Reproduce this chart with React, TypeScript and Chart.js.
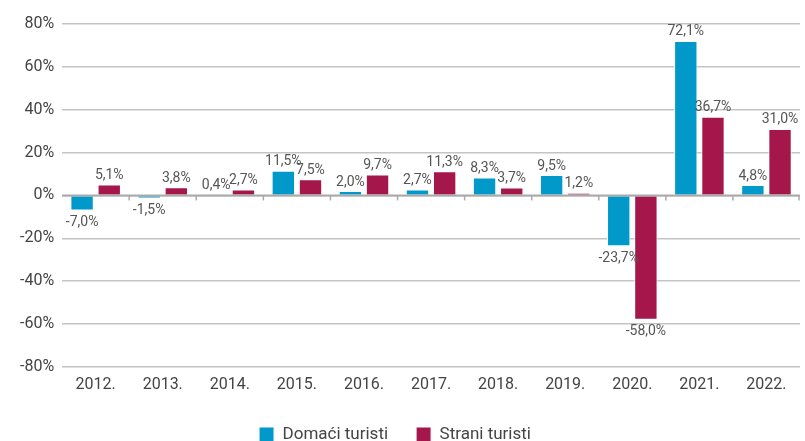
import React, { useEffect, useRef } from "react";
import { Chart, registerables } from "chart.js";

Chart.register(...registerables);

const categories = ["2012.", "2013.", "2014.", "2015.", "2016.", "2017.", "2018.", "2019.", "2020.", "2021.", "2022."];
const domaci = [-7.0, -1.5, 0.4, 11.5, 2.0, 2.7, 8.3, 9.5, -23.7, 72.1, 4.8];
const strani = [5.1, 3.8, 2.7, 7.5, 9.7, 11.3, 3.7, 1.2, -58.0, 36.7, 31.0];
const seriesNames = ["Domaći turisti", "Strani turisti"];
const colors = ["#0099c9", "#a5174b"];

const FONT = "Roboto, 'DejaVu Sans', sans-serif";

const fmt = (v: number) => v.toFixed(1).replace(".", ",") + "%";

const labelPlugin = {
  id: "valueLabels",
  afterDatasetsDraw(chart: any) {
    const ctx = chart.ctx;
    ctx.save();
    ctx.font = `14px ${FONT}`;
    ctx.fillStyle = "#555";
    ctx.textAlign = "center";
    chart.data.datasets.forEach((ds: any, di: number) => {
      const meta = chart.getDatasetMeta(di);
      meta.data.forEach((bar: any, i: number) => {
        const v = ds.data[i];
        if (v >= 0) {
          ctx.textBaseline = "bottom";
          ctx.fillText(fmt(v), bar.x, bar.y - 2);
        } else {
          ctx.textBaseline = "top";
          ctx.fillText(fmt(v), bar.x, bar.y + 5);
        }
      });
    });
    ctx.restore();
  },
};

const zeroLinePlugin = {
  id: "zeroLine",
  afterDatasetsDraw(chart: any) {
    const ctx = chart.ctx;
    const y = chart.scales.y.getPixelForValue(0);
    const xs = chart.scales.x;
    const { left, right } = chart.chartArea;
    ctx.save();
    ctx.strokeStyle = "#aaa";
    ctx.lineWidth = 2;
    ctx.beginPath();
    ctx.moveTo(left, y);
    ctx.lineTo(right, y);
    ctx.stroke();
    ctx.lineWidth = 1.5;
    const n = categories.length;
    for (let i = 1; i <= n; i++) {
      const x = i < n ? (xs.getPixelForValue(i - 1) + xs.getPixelForValue(i)) / 2 : right - 1;
      ctx.beginPath();
      ctx.moveTo(x, y);
      ctx.lineTo(x, y + 5);
      ctx.stroke();
    }
    ctx.restore();
  },
};

const legendShift = {
  id: "legendShift",
  afterLayout(chart: any) {
    if (chart.legend) {
      chart.legend.left -= 11;
      chart.legend.right -= 11;
    }
  },
};

export default function App() {
  const ref = useRef<HTMLCanvasElement>(null);
  useEffect(() => {
    document.body.style.margin = "0";
    const chart = new Chart(ref.current!, {
      type: "bar",
      data: {
        labels: categories,
        datasets: [
          { label: seriesNames[0], data: domaci, backgroundColor: colors[0], borderColor: "#ffffff", borderWidth: 1, categoryPercentage: 0.81, barPercentage: 0.86 },
          { label: seriesNames[1], data: strani, backgroundColor: colors[1], borderColor: "#ffffff", borderWidth: 1, categoryPercentage: 0.81, barPercentage: 0.86 },
        ],
      },
      options: {
        animation: false,
        responsive: false,
        maintainAspectRatio: false,
        layout: { padding: { top: 24, right: 5, left: 12, bottom: -12 } },
        scales: {
          x: {
            grid: { display: false },
            border: { display: false },
            ticks: { color: "#444", font: { family: FONT, size: 16 }, padding: 1 },
            afterFit: (scale: any) => {
              scale.height += 2;
            },
          },
          y: {
            min: -80,
            max: 80,
            ticks: { stepSize: 20, color: "#444", font: { family: FONT, size: 16 }, padding: 8, callback: (v: any) => v + "%" },
            grid: { color: "#c4c4c4", lineWidth: 1.5, drawTicks: false },
            border: { display: false },
          },
        },
        plugins: {
          legend: {
            position: "bottom",
            labels: { boxWidth: 15, boxHeight: 15, color: "#444", font: { family: FONT, size: 17 }, padding: 28 },
          },
          tooltip: { enabled: false },
        },
      },
      plugins: [zeroLinePlugin, labelPlugin, legendShift],
    });
    return () => chart.destroy();
  }, []);
  return (
    <div style={{ width: 805, height: 441 }}>
      <canvas ref={ref} width={805} height={441} />
    </div>
  );
}
